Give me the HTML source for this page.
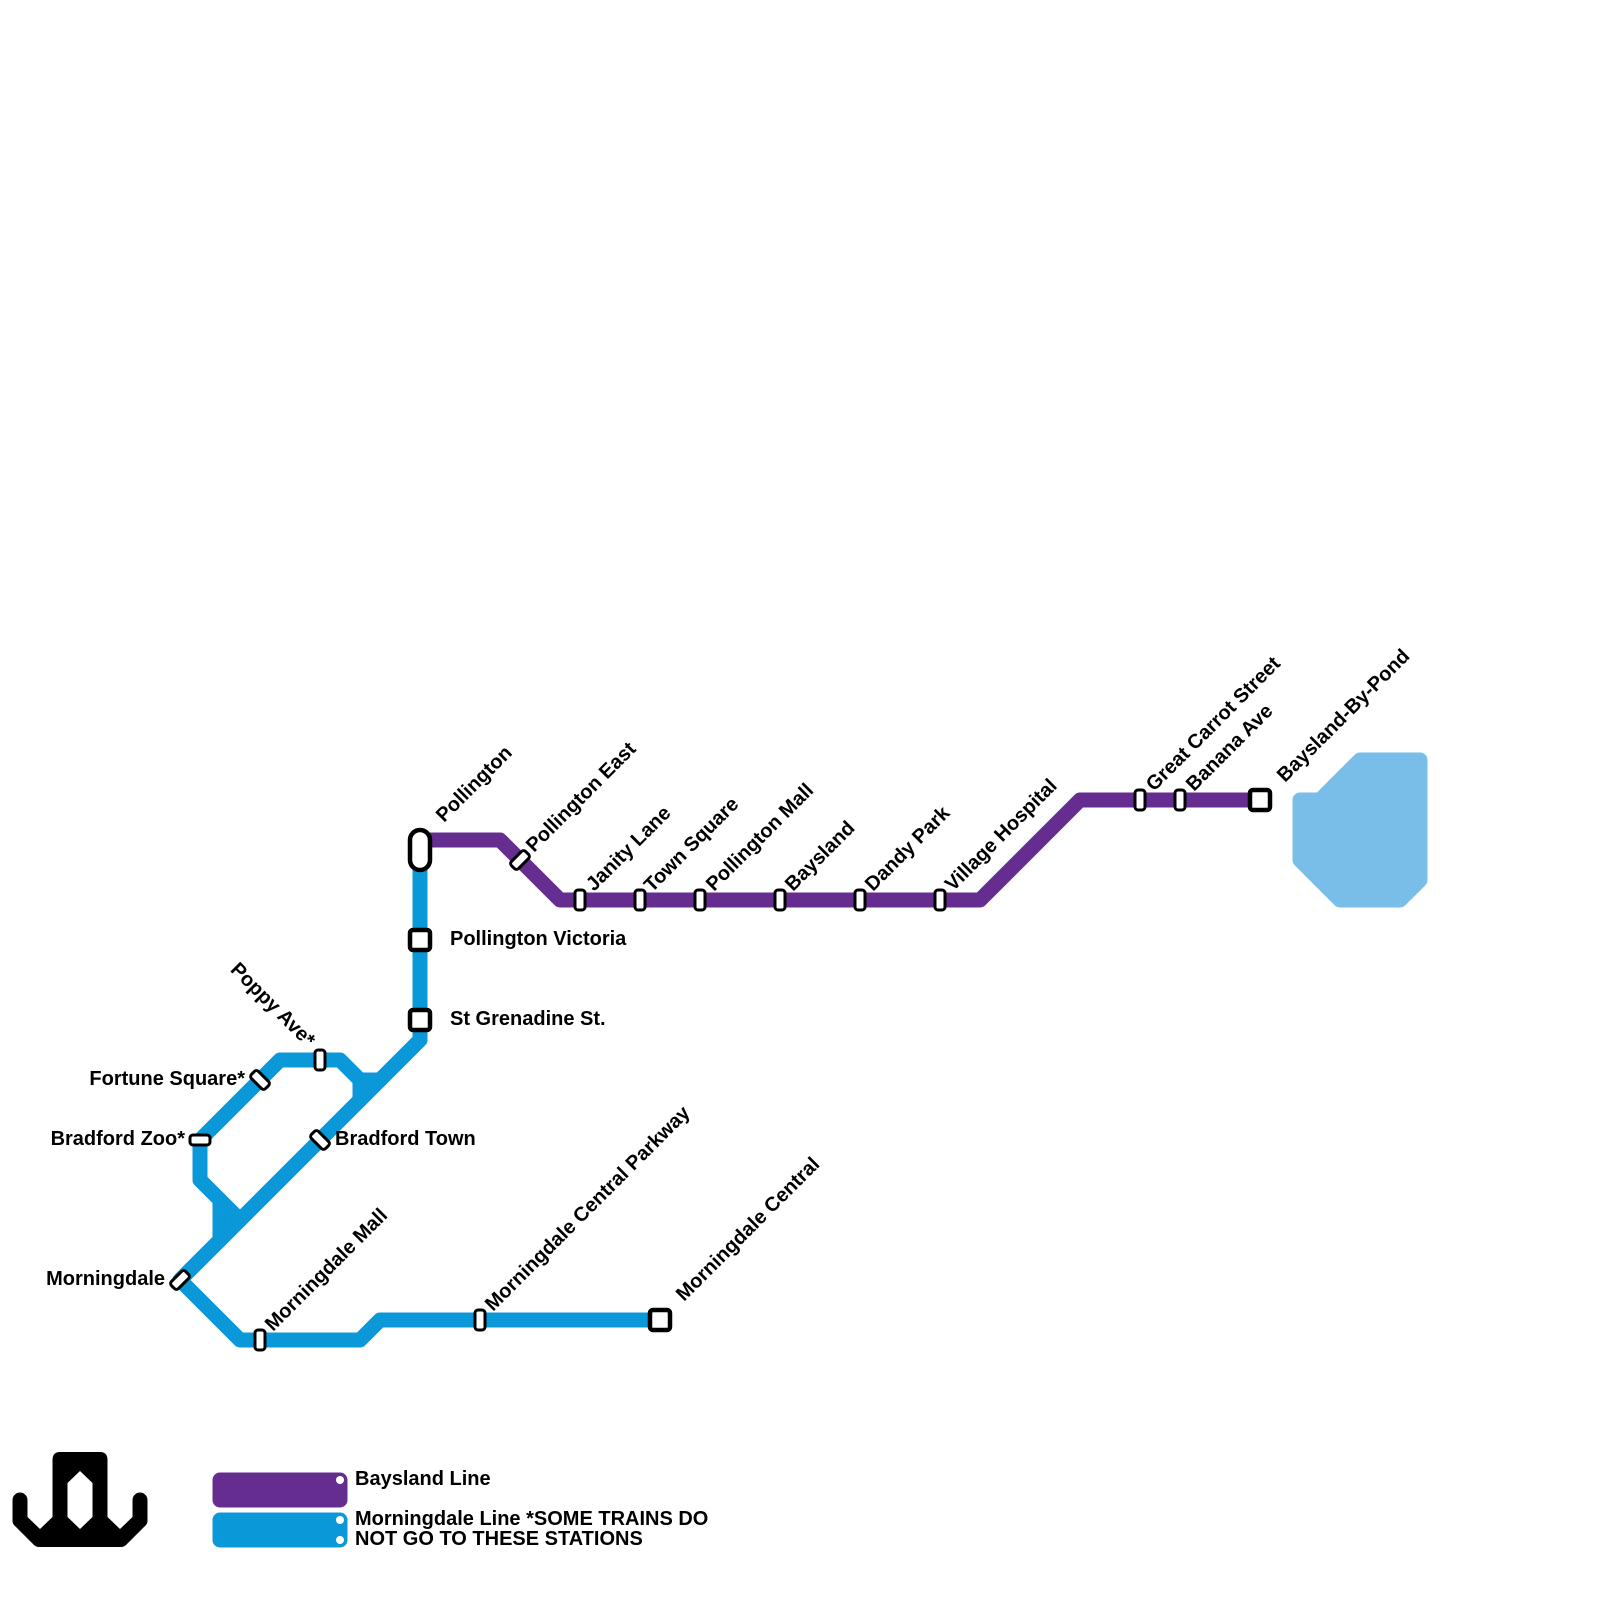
<!DOCTYPE html>
<html><head><meta charset="utf-8"><style>
html,body{margin:0;padding:0;background:#fff}
svg{display:block}
text{font-family:"Liberation Sans",sans-serif;font-weight:700;font-size:20px;fill:#000}
.l{fill:none;stroke-width:15;stroke-linejoin:round;stroke-linecap:round}
.b{stroke:#0b98d8}.p{stroke:#652d90}
.s{fill:#fff;stroke:#000;stroke-width:3}
.t{fill:#fff;stroke:#000;stroke-width:4.500}
</style></head><body>
<svg xmlns="http://www.w3.org/2000/svg" width="1600" height="1600" viewBox="0 0 1600 1600">
<rect width="1600" height="1600" fill="#fff"/>
<polygon points="1300,800 1320,800 1360,760 1420,760 1420,880 1400,900 1340,900 1300,860" fill="#79bde9" stroke="#79bde9" stroke-width="15" stroke-linejoin="round"/>
<polyline class="l b" points="420,850 420,1040 180,1280 240,1340 360,1340 380,1320 660,1320"/>
<polyline class="l b" points="220,1240 220,1200"/>
<polyline class="l b" points="240,1220 200,1180 200,1140 280,1060 340,1060 360,1080 380,1080"/>
<polyline class="l b" points="360,1080 360,1100"/>
<polygon points="212.500,1185 240,1209.500 212.500,1237" fill="#0b98d8"/>
<polygon points="352.500,1082 360,1072.500 377,1072.500 352.500,1097" fill="#0b98d8"/>
<polyline class="l p" points="420,840 500,840 560,900 980,900 1080,800 1260,800"/>
<g class="st">
<rect class="s" x="575" y="890" width="10" height="20" rx="3"/>
<rect class="s" x="635" y="890" width="10" height="20" rx="3"/>
<rect class="s" x="695" y="890" width="10" height="20" rx="3"/>
<rect class="s" x="775" y="890" width="10" height="20" rx="3"/>
<rect class="s" x="855" y="890" width="10" height="20" rx="3"/>
<rect class="s" x="935" y="890" width="10" height="20" rx="3"/>
<rect class="s" x="1135" y="790" width="10" height="20" rx="3"/>
<rect class="s" x="1175" y="790" width="10" height="20" rx="3"/>
<rect class="s" x="315" y="1050" width="10" height="20" rx="3"/>
<rect class="s" x="255" y="1330" width="10" height="20" rx="3"/>
<rect class="s" x="475" y="1310" width="10" height="20" rx="3"/>
<rect class="s" x="190" y="1135" width="20" height="10" rx="3"/>
<rect class="s" x="515" y="850" width="10" height="20" rx="3" transform="rotate(45 520 860)"/>
<rect class="s" x="255" y="1070" width="10" height="20" rx="3" transform="rotate(-45 260 1080)"/>
<rect class="s" x="315" y="1130" width="10" height="20" rx="3" transform="rotate(-45 320 1140)"/>
<rect class="s" x="175" y="1270" width="10" height="20" rx="3" transform="rotate(45 180 1280)"/>
<rect class="t" x="410" y="830" width="20" height="40" rx="10"/>
<rect class="t" x="410" y="930" width="20" height="20" rx="3"/>
<rect class="t" x="410" y="1010" width="20" height="20" rx="3"/>
<rect class="t" x="650" y="1310" width="20" height="20" rx="3"/>
<rect class="t" x="1250" y="790" width="20" height="20" rx="3"/>
</g>
<text transform="translate(444,823) rotate(-45)">Pollington</text>
<text transform="translate(534,853) rotate(-45)">Pollington East</text>
<text transform="translate(594,892) rotate(-45)">Janity Lane</text>
<text transform="translate(652,893) rotate(-45)">Town Square</text>
<text transform="translate(714,892) rotate(-45)">Pollington Mall</text>
<text transform="translate(793,892) rotate(-45)">Baysland</text>
<text transform="translate(873,892) rotate(-45)">Dandy Park</text>
<text transform="translate(953,892) rotate(-45)">Village Hospital</text>
<text transform="translate(1154,792) rotate(-45)">Great Carrot Street</text>
<text transform="translate(1194,792) rotate(-45)">Banana Ave</text>
<text transform="translate(1285,783) rotate(-45)">Baysland-By-Pond</text>
<text transform="translate(273,1332) rotate(-45)">Morningdale Mall</text>
<text transform="translate(493,1312) rotate(-45)">Morningdale Central Parkway</text>
<text transform="translate(684,1302) rotate(-45)">Morningdale Central</text>
<text transform="translate(307,1048) rotate(45)" text-anchor="end">Poppy Ave*</text>
<text x="450" y="945">Pollington Victoria</text>
<text x="450" y="1025">St Grenadine St.</text>
<text x="335" y="1145">Bradford Town</text>
<text x="245" y="1085" text-anchor="end">Fortune Square*</text>
<text x="185" y="1145" text-anchor="end">Bradford Zoo*</text>
<text x="165" y="1285" text-anchor="end">Morningdale</text>
<path fill-rule="evenodd" fill="#000" d="M60,1452 H100 Q107.500,1452 107.500,1460 V1517 L120,1529 L132.500,1517 V1500 A7.500,7.500 0 0 1 147.500,1500 V1521 Q147.500,1524 145,1526 L126,1545 Q124,1547 121,1547 H39 Q36,1547 34,1545 L15,1526 Q12.500,1524 12.500,1521 V1500 A7.500,7.500 0 0 1 27.500,1500 V1517 L40,1529 L52.500,1517 V1460 Q52.500,1452 60,1452 Z M80,1471 L67.500,1483 V1517 L80,1529 L92.500,1517 V1483 Z"/>
<rect x="220" y="1480" width="120" height="20" fill="#652d90" stroke="#652d90" stroke-width="15" stroke-linejoin="round"/>
<rect x="220" y="1520" width="120" height="20" fill="#0b98d8" stroke="#0b98d8" stroke-width="15" stroke-linejoin="round"/>
<circle cx="340" cy="1480" r="4" fill="#fff"/>
<circle cx="340" cy="1520" r="4" fill="#fff"/>
<circle cx="340" cy="1540" r="4" fill="#fff"/>
<text x="355" y="1485">Baysland Line</text>
<text x="355" y="1525">Morningdale Line *SOME TRAINS DO</text>
<text x="355" y="1545">NOT GO TO THESE STATIONS</text>
</svg>
</body></html>
